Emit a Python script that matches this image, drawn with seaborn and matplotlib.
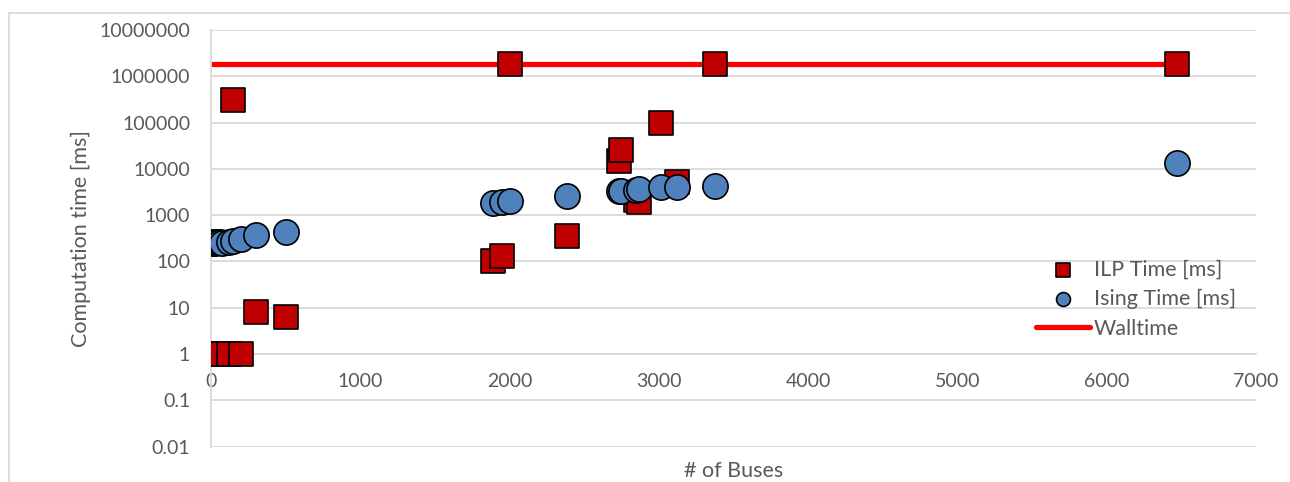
import matplotlib
matplotlib.use("Agg")
from matplotlib import pyplot as plt
from matplotlib.patches import Rectangle
from matplotlib.ticker import FixedLocator, FuncFormatter
import numpy as np
import pandas as pd
import seaborn as sns

# Test cases (number of buses) and timings
buses = [5, 14, 30, 39, 57, 73, 118, 145, 200, 300, 500,
         1888, 1951, 2000, 2383, 2736, 2746, 2848, 2869, 3012, 3120, 3375, 6468]
ilp_time = [1, 1, 1, 1, 1, 1, 1, 310000, 1, 8.2, 6.2,
            104, 131, 1800000, 354, 15000, 25000, 2150, 1950, 96000, 5300, 1800000, 1800000]
ising_time = [260, 255, 255, 258, 262, 253, 266, 275, 310, 370, 437,
              1860, 1960, 2000, 2570, 3300, 3380, 3470, 3600, 3960, 4100, 4300, 13500]
walltime = [1800000] * len(buses)

y_ticks = [0.01, 0.1, 1, 10, 100, 1000, 10000, 100000, 1000000, 10000000]
x_ticks = [0, 1000, 2000, 3000, 4000, 5000, 6000, 7000]

df = pd.DataFrame({"buses": buses, "ilp": ilp_time, "ising": ising_time, "wall": walltime})

sns.set_style("white")
plt.rcParams["font.family"] = ["Lato", "DejaVu Sans"]
text_color = "#595959"
grid_color = "#D9D9D9"

fig = plt.figure(figsize=(12.9, 4.82), dpi=100)
ax = fig.add_axes([211 / 1290, 1 - 446.5 / 482, (1256 - 211) / 1290, (446.5 - 30) / 482])

sns.lineplot(data=df, x="buses", y="wall", ax=ax, color="#FF0000", linewidth=3.8,
             label="Walltime", zorder=2)
sns.scatterplot(data=df, x="buses", y="ilp", ax=ax, marker="s", s=300, color="#C00000",
                edgecolor="black", linewidth=1.2, label="ILP Time [ms]", zorder=3)
sns.scatterplot(data=df, x="buses", y="ising", ax=ax, marker="o", s=330, color="#4F81BD",
                edgecolor="black", linewidth=1.2, label="Ising Time [ms]", zorder=4)

ax.set_yscale("log")
ax.set_ylim(0.01, 10000000)
ax.set_xlim(0, 7000)
ax.yaxis.set_major_locator(FixedLocator(y_ticks))
ax.yaxis.set_minor_locator(FixedLocator([]))
ax.yaxis.set_major_formatter(FuncFormatter(lambda v, _: f"{v:.0f}" if v >= 1 else f"{v:g}"))
ax.xaxis.set_major_locator(FixedLocator(x_ticks))

ax.grid(axis="y", color=grid_color, linewidth=1.3)
ax.grid(axis="x", visible=False)
for side in ["top", "right"]:
    ax.spines[side].set_visible(False)
ax.spines["left"].set_color(grid_color)
ax.spines["left"].set_linewidth(1.3)
ax.spines["bottom"].set_position(("data", 1))
ax.spines["bottom"].set_color(grid_color)
ax.spines["bottom"].set_linewidth(1.3)

ax.tick_params(axis="y", length=0, pad=15, labelsize=14, labelcolor=text_color)
ax.tick_params(axis="x", length=0, pad=14, labelsize=14, labelcolor=text_color)

ax.set_ylabel("Computation time [ms]", fontsize=15.5, color=text_color)
ax.yaxis.set_label_coords(-0.115, 0.5)
ax.set_xlabel("# of Buses", fontsize=15.5, color=text_color)
ax.xaxis.set_label_coords(0.5, -0.035)

handles, labels = ax.get_legend_handles_labels()
order = [labels.index("ILP Time [ms]"), labels.index("Ising Time [ms]"), labels.index("Walltime")]
ax.legend([handles[i] for i in order], [labels[i] for i in order],
          loc="center left", bbox_to_anchor=(1036 / 1290, 1 - 299 / 482),
          bbox_transform=fig.transFigure, frameon=False, fontsize=15.5,
          labelcolor=text_color, borderpad=0, borderaxespad=0,
          handlelength=2.5, handletextpad=0.2, labelspacing=0.45, markerscale=0.55)

# chart area border
fig.add_artist(Rectangle((9 / 1290, -0.05), 1.0, 1 - 12.5 / 482 + 0.05,
                         transform=fig.transFigure, fill=False,
                         edgecolor=grid_color, linewidth=1.3))

fig.savefig("out.png", dpi=100)
